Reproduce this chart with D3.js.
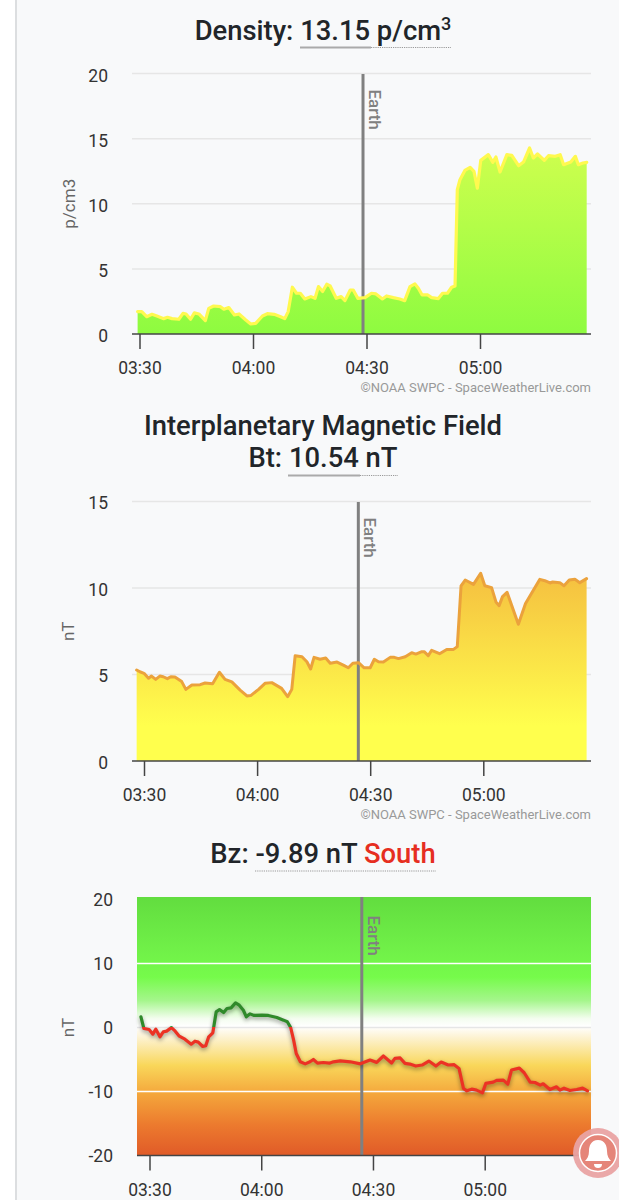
<!DOCTYPE html>
<html>
<head>
<meta charset="utf-8">
<script src="https://cdn.jsdelivr.net/npm/d3@7"></script>
<style>
html, body { margin: 0; padding: 0; background: #f8f9fa; }
svg { display: block; font-family: Roboto, sans-serif; }
.tick text { font-size: 17.5px; fill: #333; }
</style>
</head>
<body>
<svg id="vis" width="619" height="1200"></svg>
<script>
// Values. Minutes are minutes after 00:00 (210 = 03:30)
const densityMinutes = [209.5,210.6,211.9,213.3,214.6,216.4,217.4,218.6,220.4,221.5,222.3,223.5,224.5,225.7,227.4,228.3,229.6,231.4,232.3,233.6,235.1,236.3,238.1,239.4,240.7,242.5,243.8,245.6,247.3,248.4,249.3,250.4,251.5,252.5,253.7,255.3,256.4,257.3,258.4,259.5,260.4,262,263.3,264.3,265.7,266.5,267.7,269.6,271.3,272.5,274.2,275.3,277.1,278.8,280.1,281.5,282.8,283.7,284.7,286.2,287.2,289,290.1,291.4,292.5,293.4,294,294.7,296,297.4,298.4,299.3,300.2,302.2,303.4,304.2,305.3,307.1,308.4,310.2,311.5,313.1,314.1,315.2,317,318.1,319.9,321.2,322.1,324,325.2,326,327.2,328.2]
const densityValues = [1.72,1.72,1.33,1.51,1.38,1.18,1.28,1.18,1.13,1.59,1.54,1.13,1.62,1.54,1.03,1.97,2.15,2.1,1.9,2.03,1.46,1.54,1.08,0.77,0.82,1.38,1.56,1.51,1.33,1.18,1.72,3.59,3.13,3.13,2.69,2.87,2.74,3.64,3.26,3.82,3.69,2.74,2.87,2.56,3.38,3.38,2.74,2.79,3.13,3.08,2.69,2.92,2.79,2.69,2.56,3.64,3.85,3.51,3,3,2.79,2.72,3.13,3.13,3.59,3.69,11.08,11.85,12.56,12.79,12.49,11.2,13.33,13.77,13.18,13.59,12.44,13.77,13.72,12.92,13.2,14.28,13.51,13.82,13.33,13.69,13.64,13.77,13,13.2,13.64,13,13.13,13.18]

const btMinutes = [208.05,208.9,210,211.2,212,213.1,214.2,215.1,216.2,217.1,218.2,220,221.1,222.7,224.9,226.2,228.2,230,231.5,233.3,235.5,237.3,238.3,240.4,242.1,243.9,246.5,248.1,249.2,250.1,251.9,253.2,254.2,255.1,256.7,258.2,259.4,261.2,263,264.2,265.4,266.9,268.4,270,271.1,272.2,273.5,275.3,276.4,277.5,279.3,281,282.1,283.7,284.3,285.4,286.3,288.4,290.3,292.1,293.1,294.1,295.2,297.4,299.3,300.4,302.2,303.4,304.2,305.1,306.3,309.3,311.2,315,316.3,317.7,318.4,320.3,321.4,322.8,324.3,325.6,327.4]
const btValues = [5.26,5.16,5.07,4.78,4.91,4.72,4.91,4.87,4.76,4.87,4.86,4.59,4.14,4.39,4.41,4.51,4.47,5.13,4.72,4.57,4.1,3.76,3.78,4.14,4.49,4.53,4.2,3.72,4.14,6.09,6.03,5.74,5.32,5.99,5.88,5.95,5.65,5.72,5.53,5.39,5.65,5.68,5.39,5.39,5.88,5.74,5.72,5.99,5.99,5.92,6.03,6.26,6.18,6.32,6.32,6.09,6.4,6.2,6.45,6.45,6.61,10.12,10.46,10.21,10.85,10.13,10.02,9.17,8.98,9.5,9.75,7.9,9.11,10.5,10.42,10.29,10.35,10.31,10.13,10.46,10.5,10.31,10.54]

const bzMinutes = [207.7,208.5,209.9,210.9,211.7,212.8,213.7,214.6,215.9,216.9,218,219.5,221.2,222.2,223.1,224.3,225.1,225.9,227,227.9,228.8,229.9,230.8,231.9,233.1,234.1,235.2,236,237,238.1,240.2,241.9,244.2,246,247,247.9,248.7,249.4,250.5,251.8,253.1,254,255.1,256.7,258.3,259.4,261.2,263.9,266.6,269.2,271,272.8,275,275.9,277.3,278.6,279.9,281.5,283.2,285,286.9,288.3,290.2,291.8,293.1,294.3,295.2,296.5,297.8,299.4,300.3,302.3,303.2,305,306.2,307.2,309.3,310.6,312.2,313.5,314.9,315.7,317.5,319.3,320.2,321.3,322.9,324.7,326.3,327.6]
const bzValues = [1.67,-0.16,-0.31,-1.04,-0.26,-1.46,-0.68,-0.57,-0.02,-0.57,-1.35,-1.82,-2.6,-2.14,-2.29,-2.97,-2.86,-1.46,-0.83,2.44,2.81,2.34,2.97,3.07,3.85,3.49,2.7,1.67,2.13,1.88,1.93,1.88,1.56,1.15,0.89,0,-1.98,-4.06,-5.36,-5.68,-5.36,-5,-5.57,-5.47,-5.57,-5.36,-5.21,-5.36,-5.68,-5.08,-5.45,-4.45,-5.55,-4.82,-4.76,-5.6,-5.71,-6.02,-5.86,-5.24,-6.02,-5.39,-5.86,-5.81,-6.39,-9.53,-9.9,-9.63,-9.79,-10.21,-8.74,-8.53,-8.27,-8.22,-8.85,-6.65,-6.34,-7.07,-8.53,-8.59,-9.01,-8.8,-9.69,-9.27,-9.79,-9.48,-9.84,-9.69,-9.48,-9.9]

const timeTicks = [210, 240, 270, 300]
const densityTicks = [0, 5, 10, 15, 20]
const btTicks = [0, 5, 10, 15]
const bzTicks = [-20, -10, 0, 10, 20]

const svg = d3.select('#vis')
const defs = svg.append('defs')
const minuteToDate = m => new Date(Date.UTC(2020, 0, 1) + m * 60000)
const creditText = '©NOAA SWPC - SpaceWeatherLive.com'

// page background and the card's left border
svg.append('rect').attr('width', 15).attr('height', 1200).attr('fill', '#fff')
svg.append('rect').attr('x', 15).attr('width', 2).attr('height', 1200).attr('fill', '#dcdee0')

function addGradient(id, stops, y1, y2) {
    const g = defs.append('linearGradient').attr('id', id)
        .attr('gradientUnits', 'userSpaceOnUse')
        .attr('x1', 0).attr('x2', 0).attr('y1', y1).attr('y2', y2)
    stops.forEach(s => g.append('stop').attr('offset', s[0]).attr('stop-color', s[1]))
}

function drawPanel(p) {
    const x = d3.scaleTime()
        .domain([minuteToDate(210), minuteToDate(300)])
        .range([p.x0330, p.x0500])
    const y = d3.scaleLinear().domain(p.yDomain).range([p.bottom, p.top])
    const g = svg.append('g')
    const plotTop = p.plotFill ? p.top - 2.5 : p.top + 0.5

    if (p.plotFill) {
        g.append('rect').attr('x', p.left).attr('y', plotTop)
            .attr('width', p.right - p.left).attr('height', p.bottom - plotTop)
            .attr('fill', p.plotFill)
    }

    // grid lines
    const gridTicks = p.plotFill ? p.yTicks.slice(1, -1) : p.yTicks.slice(1)
    g.selectAll('.grid').data(gridTicks).join('line')
        .attr('x1', p.left).attr('x2', p.right)
        .attr('y1', d => y(d)).attr('y2', d => y(d))
        .attr('stroke', d => p.gridColor ? p.gridColor(d) : '#e6e6e6')
        .attr('stroke-width', 1.5)

    const data = p.minutes.map((m, i) => [minuteToDate(m), p.values[i]])

    if (p.areaFill) {
        const area = d3.area().x(d => x(d[0])).y0(p.bottom).y1(d => y(d[1]))
        g.append('path').attr('d', area(data)).attr('fill', p.areaFill)
    }

    // earth marker
    const earthX = x(minuteToDate(p.earth))
    g.append('line').attr('x1', earthX).attr('x2', earthX)
        .attr('y1', plotTop).attr('y2', p.bottom)
        .attr('stroke', '#808080').attr('stroke-width', 3)
    g.append('text')
        .attr('transform', `translate(${earthX + 6},${p.top + 16}) rotate(90)`)
        .attr('fill', '#808080').attr('font-size', 17).attr('font-weight', 500)
        .text('Earth')

    const line = d3.line().x(d => x(d[0])).y(d => y(d[1]))
    const linePath = g.append('path').attr('d', line(data)).attr('fill', 'none')
        .attr('stroke', p.lineColor).attr('stroke-width', p.lineWidth)
        .attr('stroke-linejoin', 'round').attr('stroke-linecap', 'round')
    if (p.lineShadow) linePath.style('filter', 'drop-shadow(0px 2px 2px rgba(0,0,0,0.4))')

    // x axis
    const xAxis = g.append('g').attr('transform', `translate(0,${p.bottom})`)
        .call(d3.axisBottom(x)
            .tickValues(timeTicks.map(minuteToDate))
            .tickFormat(d3.utcFormat('%H:%M'))
            .tickSize(15).tickPadding(13))
    xAxis.select('.domain').remove()
    xAxis.selectAll('.tick line').attr('stroke', '#444').attr('stroke-width', 1.5)
    xAxis.selectAll('.tick text').attr('font-family', 'Roboto')
    g.append('line').attr('x1', p.left).attr('x2', p.right)
        .attr('y1', p.bottom).attr('y2', p.bottom)
        .attr('stroke', '#444').attr('stroke-width', 1.5)

    // y axis
    const yAxis = g.append('g').attr('transform', `translate(${p.labelX},${p.labelDy})`)
        .call(d3.axisLeft(y).tickValues(p.yTicks).tickSize(0).tickPadding(0)
            .tickFormat(d => String(d)))
    yAxis.select('.domain').remove()
    yAxis.selectAll('.tick text').attr('font-family', 'Roboto')

    g.append('text')
        .attr('transform', `translate(${p.unitX},${(p.top + p.bottom) / 2}) rotate(-90)`)
        .attr('text-anchor', 'middle').attr('fill', '#666').attr('font-size', 17)
        .text(p.unit)

    if (p.credit) {
        g.append('text').attr('x', 591).attr('y', p.bottom + 58)
            .attr('text-anchor', 'end').attr('fill', '#999').attr('font-size', 13)
            .text(creditText)
    }
}

// title text, with tspans so the pieces can carry their own style
function title(y, pieces) {
    const t = svg.append('text').attr('x', 323).attr('y', y)
        .attr('text-anchor', 'middle').attr('font-size', 27.4).attr('font-weight', 500)
        .attr('fill', '#212529')
    pieces.forEach(s => {
        const sp = t.append('tspan').text(s.text)
        if (s.color) sp.attr('fill', s.color)
        if (s.sup) sp.attr('font-size', 18).attr('dy', -10)
    })
}

function underline(x1, x2, y, solid) {
    svg.append('line').attr('x1', x1).attr('x2', x2).attr('y1', y).attr('y2', y)
        .attr('stroke', solid ? '#aaa' : '#999').attr('stroke-width', solid ? 1.8 : 1.2)
        .attr('stroke-dasharray', solid ? null : '1.2 1')
}

addGradient('densityFill', [[0, '#d8ff50'], [1, '#8efb40']], 120, 334)
addGradient('btFill', [[0, '#f2ad3c'], [0.85, '#ffff4d'], [1, '#ffff4d']], 530, 761)
addGradient('bzPlot', [
    [0, '#62dd3f'], [0.2, '#70f048'], [0.31, '#76fb4b'], [0.4, '#a5f68c'], [0.47, '#f4fdf0'],
    [0.5, '#ffffff'], [0.54, '#fdf3d4'], [0.65, '#f9d75a'], [0.76, '#f4a63b'],
    [0.88, '#ec7a2e'], [1, '#e05a28']
], 897, 1156)
addGradient('bzLine', [[0, '#2f8a2a'], [0.5, '#2f8a2a'], [0.5, '#ec3224'], [1, '#ec3224']], 899.5, 1155.5)

title(40, [{text: 'Density: 13.15 p/cm'}, {text: '3', sup: true}])
underline(300, 371, 47.5, true)
underline(371, 451, 47.5, false)

drawPanel({
    minutes: densityMinutes, values: densityValues, yTicks: densityTicks, yDomain: [0, 20],
    top: 73.5, bottom: 334, left: 132, right: 591, x0330: 139.5, x0500: 480, earth: 269.08,
    labelX: 108, labelDy: 2, unitX: 75, unit: 'p/cm3', areaFill: 'url(#densityFill)',
    lineColor: '#fff94f', lineWidth: 3.2, credit: true
})

title(435, [{text: 'Interplanetary Magnetic Field'}])
title(467, [{text: 'Bt: 10.54 nT'}])
underline(288, 360, 475.5, true)
underline(360, 398, 475.5, false)

drawPanel({
    minutes: btMinutes, values: btValues, yTicks: btTicks, yDomain: [0, 15],
    top: 501.5, bottom: 761, left: 132, right: 591, x0330: 144, x0500: 483.3, earth: 266.85,
    labelX: 108, labelDy: 1.5, unitX: 74, unit: 'nT', areaFill: 'url(#btFill)',
    lineColor: '#eba23c', lineWidth: 3, credit: true
})

title(863, [{text: 'Bz: -9.89 nT '}, {text: 'South', color: '#e62e21'}])
underline(255, 436, 871, false)

drawPanel({
    minutes: bzMinutes, values: bzValues, yTicks: bzTicks, yDomain: [-20, 20],
    top: 899.5, bottom: 1155.5, left: 137, right: 591, x0330: 149.5, x0500: 484.7, earth: 267,
    labelX: 113, labelDy: 0, unitX: 74, unit: 'nT', plotFill: 'url(#bzPlot)',
    gridColor: d => d === 0 ? '#e6e6e6' : '#fff',
    lineColor: 'url(#bzLine)', lineWidth: 3.2, lineShadow: true, credit: false
})

// notification bell in the corner of the page
const bell = svg.append('g').attr('transform', 'translate(598,1153)')
bell.append('circle').attr('r', 25).attr('fill', '#e9a3a3').attr('opacity', 0.95)
bell.append('circle').attr('r', 18.5).attr('fill', '#e58579').attr('stroke', '#fff').attr('stroke-width', 1.5)
bell.append('path')
    .attr('d', 'M0,-13 C-7,-13 -9,-7 -9,-2 C-9,3 -11,6 -13,8 L13,8 C11,6 9,3 9,-2 C9,-7 7,-13 0,-13 Z')
    .attr('fill', '#fff')
bell.append('path').attr('d', 'M-4,11 A4,4 0 0 0 4,11 Z').attr('fill', '#fff')
</script>
</body>
</html>
